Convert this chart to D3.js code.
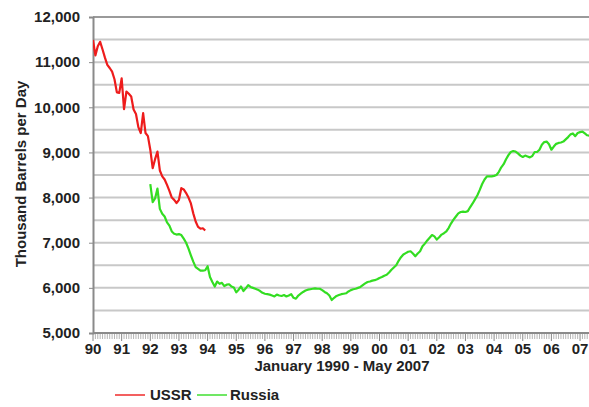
<!DOCTYPE html>
<html>
<head>
<meta charset="utf-8">
<script src="https://cdn.jsdelivr.net/npm/d3@7"></script>
<style>
  html, body { margin: 0; padding: 0; background: #fff; }
  svg text { font-family: "Liberation Sans", Arial, sans-serif; font-weight: bold; fill: #222; }
</style>
</head>
<body>
<div id="chart"></div>
<script>
// Producción mensual, miles de barriles por día. Índice 0 = enero 1990
const yearLabels = ['90','91','92','93','94','95','96','97','98','99','00','01','02','03','04','05','06','07'];
const yTicks = [5000, 6000, 7000, 8000, 9000, 10000, 11000, 12000];

// USSR: enero 1990 - diciembre 1993
const ussrStart = 0;
const ussr = [
  11490, 11150, 11350, 11450, 11280, 11100, 10940, 10870, 10790, 10620, 10330, 10320,
  10640, 9960, 10350, 10300, 10240, 9950, 9850, 9560, 9430, 9870, 9430, 9360,
  9060, 8650, 8850, 9020, 8600, 8470, 8400, 8280, 8150, 8000, 7950, 7880,
  7950, 8210, 8180, 8100, 8000, 7870, 7650, 7470, 7350, 7310, 7320, 7270
];

// Russia: enero 1992 - mayo 2007
const russiaStart = 24;
const russia = [
  8300, 7900, 7980, 8200, 7750, 7640, 7580, 7450, 7380, 7250, 7200, 7180,   // 92
  7190, 7170, 7090, 7000, 6870, 6720, 6580, 6460, 6420, 6380, 6380, 6390,   // 93
  6480, 6240, 6130, 6030, 6140, 6090, 6110, 6040, 6070, 6080, 6030, 6010,   // 94
  5900, 5960, 6030, 5930, 5990, 6060, 6020, 6000, 5980, 5960, 5930, 5890,   // 95
  5870, 5860, 5850, 5830, 5810, 5850, 5830, 5820, 5840, 5810, 5830, 5860,   // 96
  5780, 5760, 5830, 5870, 5910, 5940, 5960, 5970, 5980, 5990, 5980, 5980,   // 97
  5950, 5910, 5880, 5830, 5730, 5780, 5820, 5840, 5860, 5870, 5880, 5920,   // 98
  5950, 5970, 5980, 6000, 6020, 6060, 6100, 6130, 6140, 6160, 6170, 6190,   // 99
  6220, 6240, 6270, 6290, 6340, 6400, 6450, 6500, 6600, 6680, 6740, 6770,   // 00
  6800, 6810, 6760, 6700, 6760, 6810, 6920, 6980, 7050, 7110, 7170, 7140,   // 01
  7070, 7120, 7180, 7210, 7250, 7330, 7430, 7510, 7580, 7650, 7680, 7690,   // 02
  7680, 7700, 7790, 7870, 7960, 8050, 8170, 8300, 8400, 8470, 8470, 8470,   // 03
  8480, 8500, 8570, 8670, 8740, 8850, 8940, 9010, 9030, 9020, 8980, 8930,   // 04
  8900, 8930, 8910, 8890, 8920, 9010, 9010, 9060, 9170, 9230, 9240, 9180,   // 05
  9060, 9130, 9190, 9210, 9220, 9240, 9290, 9340, 9400, 9420, 9360, 9430,   // 06
  9450, 9460, 9420, 9380, 9370                                              // 07
];

const seriesNames = ['USSR', 'Russia'];
const seriesColors = ['#ee1c1c', '#33dd22'];

const width = 589, height = 407;
const margin = {top: 17, right: 0, bottom: 74, left: 93};
const lastMonth = 208;

const svg = d3.select('#chart').append('svg')
  .attr('width', width)
  .attr('height', height);

svg.append('rect').attr('width', width).attr('height', height).attr('fill', '#fff');

const x = d3.scaleLinear()
  .domain([0, lastMonth])
  .range([margin.left, 589.6]);

const y = d3.scaleLinear()
  .domain([5000, 12000])
  .range([height - margin.bottom, margin.top]);

// Rejilla horizontal cada 500
const gridVals = d3.range(5500, 12001, 500);
svg.append('g')
  .selectAll('line')
  .data(gridVals)
  .join('line')
  .attr('x1', margin.left)
  .attr('x2', width)
  .attr('y1', d => y(d))
  .attr('y2', d => y(d))
  .attr('stroke', d => d === 12000 ? '#9a9a9a' : '#c8c8c8')
  .attr('stroke-width', 2);

// Eje Y
const yAxis = d3.axisLeft(y)
  .tickValues(yTicks)
  .tickSize(4)
  .tickPadding(9)
  .tickFormat(d3.format(','));

const gy = svg.append('g')
  .attr('transform', `translate(${margin.left},0)`)
  .call(yAxis);
gy.select('.domain').attr('stroke', '#8a8a8a').attr('stroke-width', 2);
gy.selectAll('.tick line').attr('stroke', '#8a8a8a');
gy.selectAll('.tick text').style('font-size', '15px').attr('fill', '#333');

// Eje X: marcas mensuales
const gx = svg.append('g')
  .attr('transform', `translate(0,${y(5000)})`);
gx.selectAll('line.m')
  .data(d3.range(0, lastMonth + 1))
  .join('line')
  .attr('class', 'm')
  .attr('x1', d => x(d))
  .attr('x2', d => x(d))
  .attr('y1', 0)
  .attr('y2', d => d % 12 === 0 ? 8 : 6)
  .attr('stroke', d => d % 12 === 0 ? '#888' : '#b5b5b5')
  .attr('stroke-width', 1);
gx.append('line')
  .attr('x1', margin.left)
  .attr('x2', width)
  .attr('stroke', '#8a8a8a')
  .attr('stroke-width', 2);
gx.selectAll('text.yl')
  .data(yearLabels)
  .join('text')
  .attr('class', 'yl')
  .attr('x', (d, i) => x(i * 12))
  .attr('y', 21)
  .attr('text-anchor', 'middle')
  .style('font-size', '15px')
  .attr('fill', '#333')
  .text(d => d);

// Títulos de ejes
svg.append('text')
  .attr('x', 342)
  .attr('y', 371)
  .attr('text-anchor', 'middle')
  .style('font-size', '15px')
  .text('January 1990 - May 2007');

svg.append('text')
  .attr('transform', 'translate(26,174) rotate(-90)')
  .attr('text-anchor', 'middle')
  .style('font-size', '15px')
  .text('Thousand Barrels per Day');

// Líneas
svg.append('clipPath').attr('id', 'clip')
  .append('rect')
  .attr('x', margin.left).attr('y', 0)
  .attr('width', width - margin.left).attr('height', height - margin.bottom + 2);

const line = d3.line()
  .x(d => x(d.m))
  .y(d => y(d.v));

const toPts = (arr, start) => arr.map((v, i) => ({m: start + i, v}));

svg.append('path')
  .datum(toPts(russia, russiaStart))
  .attr('clip-path', 'url(#clip)')
  .attr('fill', 'none')
  .attr('stroke', seriesColors[1])
  .attr('stroke-width', 2.2)
  .attr('stroke-linejoin', 'round')
  .attr('d', line);

svg.append('path')
  .datum(toPts(ussr, ussrStart))
  .attr('clip-path', 'url(#clip)')
  .attr('fill', 'none')
  .attr('stroke', seriesColors[0])
  .attr('stroke-width', 2.2)
  .attr('stroke-linejoin', 'round')
  .attr('d', line);

// Leyenda
const legendPos = [{lx: 115, tx: 150}, {lx: 197, tx: 230}];
const lg = svg.append('g');
seriesNames.forEach((name, i) => {
  lg.append('line')
    .attr('x1', legendPos[i].lx)
    .attr('x2', legendPos[i].lx + 30)
    .attr('y1', 395)
    .attr('y2', 395)
    .attr('stroke', seriesColors[i])
    .attr('stroke-opacity', 0.7)
    .attr('stroke-width', 2);
  lg.append('text')
    .attr('x', legendPos[i].tx)
    .attr('y', 400)
    .style('font-size', '15px')
    .attr('fill', '#333')
    .text(name);
});
</script>
</body>
</html>
